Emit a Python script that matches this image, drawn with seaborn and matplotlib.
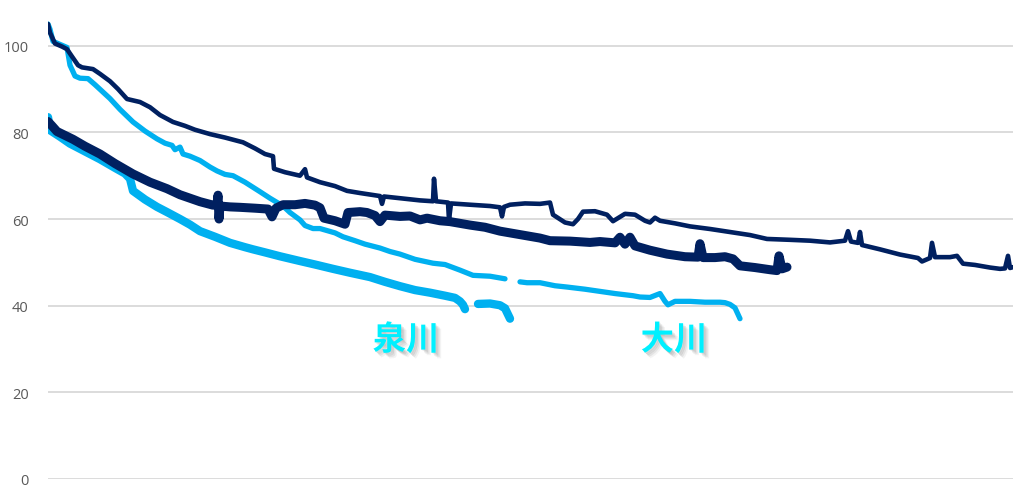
import numpy as np
import pandas as pd
import matplotlib
matplotlib.use("Agg")
import matplotlib.pyplot as plt
import matplotlib.patheffects as pe
import seaborn as sns

# 大川 (細線) / 泉川 (太線) の推移データ、x は経過（任意単位）
navy_thin_x = [0, 2, 7, 14, 19, 24, 30, 34, 45, 52, 62, 70, 79, 92, 102, 112, 125, 137, 147, 162, 177, 195,
               207, 217, 225, 226, 237, 252, 257, 259, 272, 287, 299, 312, 332, 334, 336, 352, 372, 385, 386,
               388, 400, 401, 403, 422, 442, 452, 454, 456, 462, 477, 492, 502, 505, 517, 525, 530, 535, 547,
               559, 565, 577, 587, 597, 602, 607, 612, 627, 642, 662, 682, 702, 719, 742, 762, 782, 797, 800,
               803, 810, 812, 814, 832, 852, 870, 874, 882, 884, 887, 902, 909, 915, 927, 942, 952, 957, 960,
               962, 965]
navy_thin_y = [105, 103, 100.5, 99.8, 99.2, 97.5, 95.5, 95, 94.6, 93.5, 91.8, 90, 87.7, 87, 85.8, 84, 82.4,
               81.5, 80.6, 79.6, 78.8, 77.7, 76.3, 75, 74.5, 71.6, 70.8, 70, 71.5, 69.6, 68.5, 67.6, 66.5, 66,
               65.3, 63.5, 65.2, 64.8, 64.3, 64.1, 69.3, 64.1, 63.8, 59.8, 63.6, 63.3, 63, 62.7, 60.6, 62.8,
               63.3, 63.6, 63.5, 63.8, 61, 59.2, 58.8, 60, 61.7, 61.8, 61, 59.5, 61.2, 61, 59.6, 59.2, 60.3,
               59.6, 59, 58.3, 57.7, 57, 56.3, 55.4, 55.2, 55, 54.6, 55, 57.2, 54.8, 54.5, 57, 54, 53, 51.8,
               51, 50.2, 51, 54.5, 51.2, 51.2, 51.5, 49.7, 49.4, 48.8, 48.5, 48.6, 51.5, 48.7, 48.9]

navy_thick_x = [0, 4, 9, 17, 25, 37, 52, 67, 85, 102, 119, 132, 142, 152, 165, 169, 170, 171, 172, 182, 192,
                207, 220, 224, 228, 235, 247, 257, 267, 272, 276, 287, 297, 300, 312, 319, 327, 332, 337, 352,
                362, 372, 379, 392, 402, 422, 437, 452, 472, 492, 502, 522, 542, 552, 567, 572, 577, 582, 587,
                602, 619, 637, 650, 652, 655, 667, 677, 685, 692, 707, 722, 729, 731, 734, 739]
navy_thick_y = [82.5, 81.5, 80.2, 79.3, 78.4, 76.8, 75, 72.8, 70.4, 68.5, 67, 65.6, 64.8, 64, 63.2, 63.3,
                65.5, 60, 63, 62.8, 62.7, 62.5, 62.3, 60.5, 62.5, 63.3, 63.3, 63.6, 63.2, 62.6, 60.2, 59.6,
                58.8, 61.5, 61.7, 61.5, 60.8, 59.4, 60.9, 60.6, 60.7, 59.8, 60.2, 59.6, 59.4, 58.6, 58.1, 57.2,
                56.4, 55.6, 55, 54.9, 54.6, 54.8, 54.5, 55.8, 54.2, 55.8, 53.8, 52.8, 51.9, 51.3, 51.2, 54.3,
                51.1, 51.1, 51.3, 50.8, 49.2, 48.8, 48.3, 48.1, 51.5, 48.5, 48.9]

light_thin_x = [0, 2, 5, 12, 19, 22, 27, 32, 40, 47, 62, 72, 85, 97, 109, 117, 124, 127, 132, 135, 142, 152,
                162, 169, 177, 185, 197, 212, 222, 235, 242, 252, 257, 265, 272, 287, 295, 307, 317, 332, 342,
                352, 367, 385, 397, 412, 425, 442, 457, 462, 472, 479, 492, 507, 519, 537, 552, 567, 585, 592,
                602, 612, 617, 620, 627, 642, 657, 672, 677, 682, 687, 692]
light_thin_y = [105, 103.8, 101, 100.3, 99.6, 95.5, 93, 92.5, 92.4, 91, 87.8, 85.3, 82.4, 80.3, 78.5, 77.5,
                77, 76, 76.6, 75, 74.5, 73.5, 72, 71.1, 70.3, 70, 68.5, 66.3, 64.8, 63, 61.5, 59.8, 58.5, 57.8,
                57.8, 56.8, 55.9, 55, 54.2, 53.3, 52.5, 51.9, 50.7, 49.8, 49.5, 48.2, 47, 46.8, 46.2, np.nan,
                45.5, 45.3, 45.3, 44.6, 44.3, 43.8, 43.3, 42.8, 42.3, 42, 41.9, 42.8, 41, 40.2, 41, 41, 40.8,
                40.8, 40.7, 40.3, 39.5, 37]

light_thick_x = [0, 2, 12, 22, 37, 52, 67, 77, 82, 85, 97, 109, 119, 132, 142, 152, 167, 182, 197, 205, 217,
                 232, 252, 267, 285, 302, 322, 337, 352, 367, 382, 397, 407, 412, 415, 417, 424, 430, 442, 452,
                 457, 462]
light_thick_y = [83.5, 80.5, 79, 77.4, 75.6, 73.8, 71.8, 70.5, 69.3, 66.5, 64.5, 62.8, 61.6, 60, 58.7, 57.2,
                 55.9, 54.5, 53.5, 53, 52.3, 51.4, 50.3, 49.5, 48.5, 47.6, 46.6, 45.5, 44.5, 43.6, 43, 42.3,
                 41.8, 41, 40.2, 39.2, np.nan, 40.4, 40.5, 40.1, 39.4, 37]

river_labels = ["泉川", "大川"]
label_x = [358, 626]
label_y = [32.0, 32.0]

NAVY = "#002060"
LIGHT = "#00B0F0"


def to_frame(xs, ys):
    df = pd.DataFrame({"x": xs, "y": ys})
    df["seg"] = df["y"].isna().cumsum()
    return df.dropna()


sns.set_style("white")
plt.rcParams['font.family'] = ['Noto Sans CJK JP', 'DejaVu Sans']

fig = plt.figure(figsize=(10.24, 4.89), dpi=100)
ax = fig.add_axes([48 / 1024, 9 / 489, 965 / 1024, 480 / 489])

series = [
    (light_thick_x, light_thick_y, LIGHT, 6.0),
    (light_thin_x, light_thin_y, LIGHT, 3.8),
    (navy_thick_x, navy_thick_y, NAVY, 6.5),
    (navy_thin_x, navy_thin_y, NAVY, 3.3),
]
for xs, ys, color, lw in series:
    df = to_frame(xs, ys)
    sns.lineplot(data=df, x="x", y="y", units="seg", estimator=None, sort=False,
                 color=color, linewidth=lw, ax=ax, legend=False,
                 solid_capstyle="round", solid_joinstyle="round")

# ぼかした影（オフセットをずらして重ねる）
shadow = [pe.SimplePatchShadow(offset=(o, -o), shadow_rgbFace="#707070", alpha=a)
          for o, a in [(4, 0.08), (3, 0.12), (2, 0.16), (1, 0.12)]]
for txt, tx, ty in zip(river_labels, label_x, label_y):
    ax.text(tx, ty, txt, ha="center", va="center", fontsize=24, fontweight="bold",
            color="#00F0FF", path_effects=shadow + [pe.Normal()])

ax.set_xlim(0, 965)
ax.set_ylim(0, 480 / 4.333)
ax.set_yticks([0, 20, 40, 60, 80, 100])
ax.set_xticks([])
ax.set_xlabel("")
ax.set_ylabel("")
ax.grid(axis="y", color="#D9D9D9", linewidth=1.3)
ax.set_axisbelow(True)
ax.tick_params(axis="y", length=0, pad=14, labelsize=10.5, labelcolor="#595959")
for lab in ax.get_yticklabels():
    lab.set_family("Open Sans")
sns.despine(ax=ax, left=True, bottom=True)

fig.savefig("out.png", dpi=100)
